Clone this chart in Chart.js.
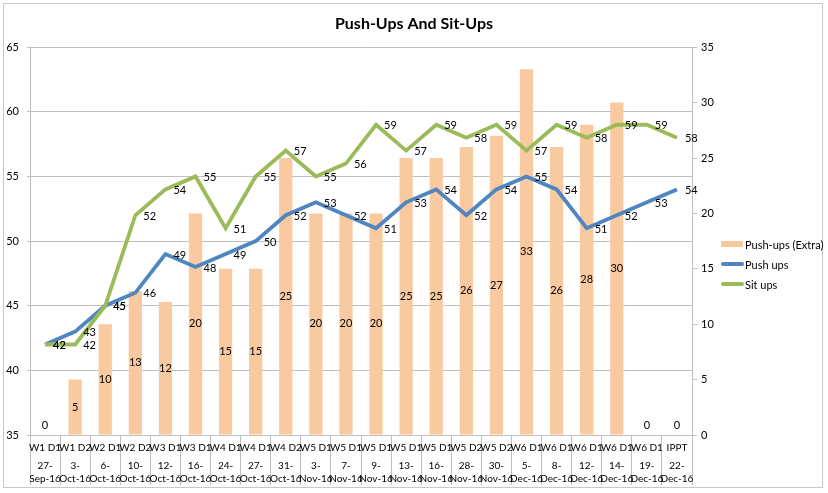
<!DOCTYPE html>
<html>
<head>
<meta charset="utf-8">
<script src="https://cdn.jsdelivr.net/npm/chart.js@4.4.1/dist/chart.umd.min.js"></script>
<style>
  html, body { margin: 0; padding: 0; background: #ffffff; }
  #wrap { width: 828px; height: 493px; }
</style>
</head>
<body>
<div id="wrap"><canvas id="pushChart" width="828" height="493"></canvas></div>
<script>
// data
const weeks = ["W1 D1", "W1 D2", "W2 D1", "W2 D2", "W3 D1", "W3 D1", "W4 D1", "W4 D1", "W4 D2", "W5 D1", "W5 D1",
   "W5 D1", "W5 D1", "W5 D1", "W5 D2", "W5 D2", "W6 D1", "W6 D1", "W6 D1", "W6 D1", "W6 D1", "IPPT"];
const dates = ["27-Sep-16", "3-Oct-16", "6-Oct-16", "10-Oct-16", "12-Oct-16", "16-Oct-16", "24-Oct-16", "27-Oct-16",
   "31-Oct-16", "3-Nov-16", "7-Nov-16", "9-Nov-16", "13-Nov-16", "16-Nov-16", "28-Nov-16", "30-Nov-16",
   "5-Dec-16", "8-Dec-16", "12-Dec-16", "14-Dec-16", "19-Dec-16", "22-Dec-16"];
const extraPushUps = [0, 5, 10, 13, 12, 20, 15, 15, 25, 20, 20, 20, 25, 25, 26, 27, 33, 26, 28, 30, 0, 0];
const pushUps = [42, 43, 45, 46, 49, 48, 49, 50, 52, 53, 52, 51, 53, 54, 52, 54, 55, 54, 51, 52, 53, 54];
const sitUps = [42, 42, 45, 52, 54, 55, 51, 55, 57, 55, 56, 59, 57, 59, 58, 59, 57, 59, 58, 59, 59, 58];

const FONT = "Lato, 'Open Sans', sans-serif";
const gridGray = "#bfbfbf";

// frame + data labels + date row + legend
const excelBits = {
   id: "excelBits",
   beforeDraw(chart) {
      const ctx = chart.ctx;
      ctx.save();
      ctx.fillStyle = "#ffffff";
      ctx.fillRect(0, 0, chart.width, chart.height);
      ctx.strokeStyle = "#c8c8c8";
      ctx.lineWidth = 1;
      ctx.strokeRect(3.5, 3.5, 819, 484);
      ctx.restore();
   },
   afterDatasetsDraw(chart) {
      const ctx = chart.ctx;
      ctx.save();
      ctx.font = "11px " + FONT;
      ctx.fillStyle = "#000000";
      ctx.textBaseline = "middle";
      chart.data.datasets.forEach(function (ds, i) {
         const meta = chart.getDatasetMeta(i);
         meta.data.forEach(function (el, j) {
            const v = ds.data[j];
            if (ds.type === "bar") {
               ctx.textAlign = "center";
               let y = (el.y + el.base) / 2;
               if (el.base - y < 10) y = el.base - 10;
               ctx.fillText(String(v), el.x, y);
            } else {
               ctx.textAlign = "left";
               ctx.fillText(String(v), el.x + 8, el.y + 1);
            }
         });
      });
      ctx.restore();
   },
   afterDraw(chart) {
      const ctx = chart.ctx;
      const x = chart.scales.x;
      const bottom = chart.chartArea.bottom;
      ctx.save();
      ctx.font = "10px " + FONT;
      ctx.fillStyle = "#000000";
      ctx.textAlign = "center";
      ctx.textBaseline = "middle";
      weeks.forEach(function (w, i) {
         const px = x.getPixelForTick(i);
         ctx.fillText(w, px, bottom + 13);
         const cut = dates[i].indexOf("-") + 1;
         ctx.fillText(dates[i].slice(0, cut), px, bottom + 31);
         ctx.fillText(dates[i].slice(cut), px, bottom + 44);
      });

      // legend on the right
      ctx.font = "11px " + FONT;
      const lx = 721;
      chart.data.datasets.forEach(function (ds, i) {
         const ly = 244 + i * 20;
         if (ds.type === "bar") {
            ctx.fillStyle = ds.backgroundColor;
            ctx.fillRect(lx, ly - 3, 22, 6);
         } else {
            ctx.strokeStyle = ds.borderColor;
            ctx.lineWidth = 4;
            ctx.lineCap = "round";
            ctx.beginPath();
            ctx.moveTo(lx + 2, ly);
            ctx.lineTo(lx + 21, ly);
            ctx.stroke();
         }
         ctx.fillStyle = "#000000";
         ctx.textAlign = "left";
         ctx.fillText(ds.label, lx + 24, ly + 1);
      });
      ctx.restore();
   },
};

const pushchart = document.getElementById("pushChart").getContext("2d");

const pushChart = new Chart(pushchart, {
   type: "bar",
   data: {
      labels: weeks,
      datasets: [
         {
            type: "bar",
            label: "Push-ups (Extra)",
            data: extraPushUps,
            yAxisID: "y2",
            backgroundColor: "#f9c9a0",
            barPercentage: 0.44,
            categoryPercentage: 1,
            order: 3,
         },
         {
            type: "line",
            label: "Push ups",
            data: pushUps,
            yAxisID: "y",
            borderColor: "#4f86c2",
            backgroundColor: "#4f86c2",
            borderWidth: 3.8,
            pointRadius: 0,
            tension: 0,
            order: 2,
         },
         {
            type: "line",
            label: "Sit ups",
            data: sitUps,
            yAxisID: "y",
            borderColor: "#9bbb59",
            backgroundColor: "#9bbb59",
            borderWidth: 3.8,
            pointRadius: 0,
            tension: 0,
            order: 1,
         },
      ],
   },
   options: {
      responsive: false,
      animation: false,
      layout: { padding: { left: 0, right: 0, top: 0, bottom: 0 } },
      plugins: {
         legend: { display: false },
         tooltip: { enabled: false },
         title: {
            display: true,
            text: "Push-Ups And Sit-Ups",
            color: "#000000",
            font: { family: FONT, size: 16, weight: "bold" },
            padding: { top: 14, bottom: 14 },
         },
      },
      scales: {
         x: {
            offset: true,
            grid: {
               offset: true,
               drawOnChartArea: false,
               drawTicks: true,
               tickLength: 50,
               color: gridGray,
            },
            border: { display: true, color: gridGray },
            ticks: { display: false },
            afterFit: function (scale) {
               scale.height = 58;
            },
         },
         y: {
            position: "left",
            min: 35,
            max: 65,
            ticks: {
               stepSize: 5,
               padding: 8,
               color: "#000000",
               font: { family: FONT, size: 11 },
            },
            grid: { color: gridGray, drawTicks: true, tickLength: 3 },
            border: { display: true, color: gridGray },
            afterFit: function (scale) {
               scale.width = 30;
            },
         },
         y2: {
            position: "right",
            min: 0,
            max: 35,
            ticks: {
               stepSize: 5,
               padding: 4,
               color: "#000000",
               font: { family: FONT, size: 11 },
            },
            grid: { drawOnChartArea: false, drawTicks: true, tickLength: 5, color: gridGray },
            border: { display: true, color: gridGray },
            afterFit: function (scale) {
               scale.width = 136;
            },
         },
      },
   },
   plugins: [excelBits],
});
</script>
</body>
</html>
